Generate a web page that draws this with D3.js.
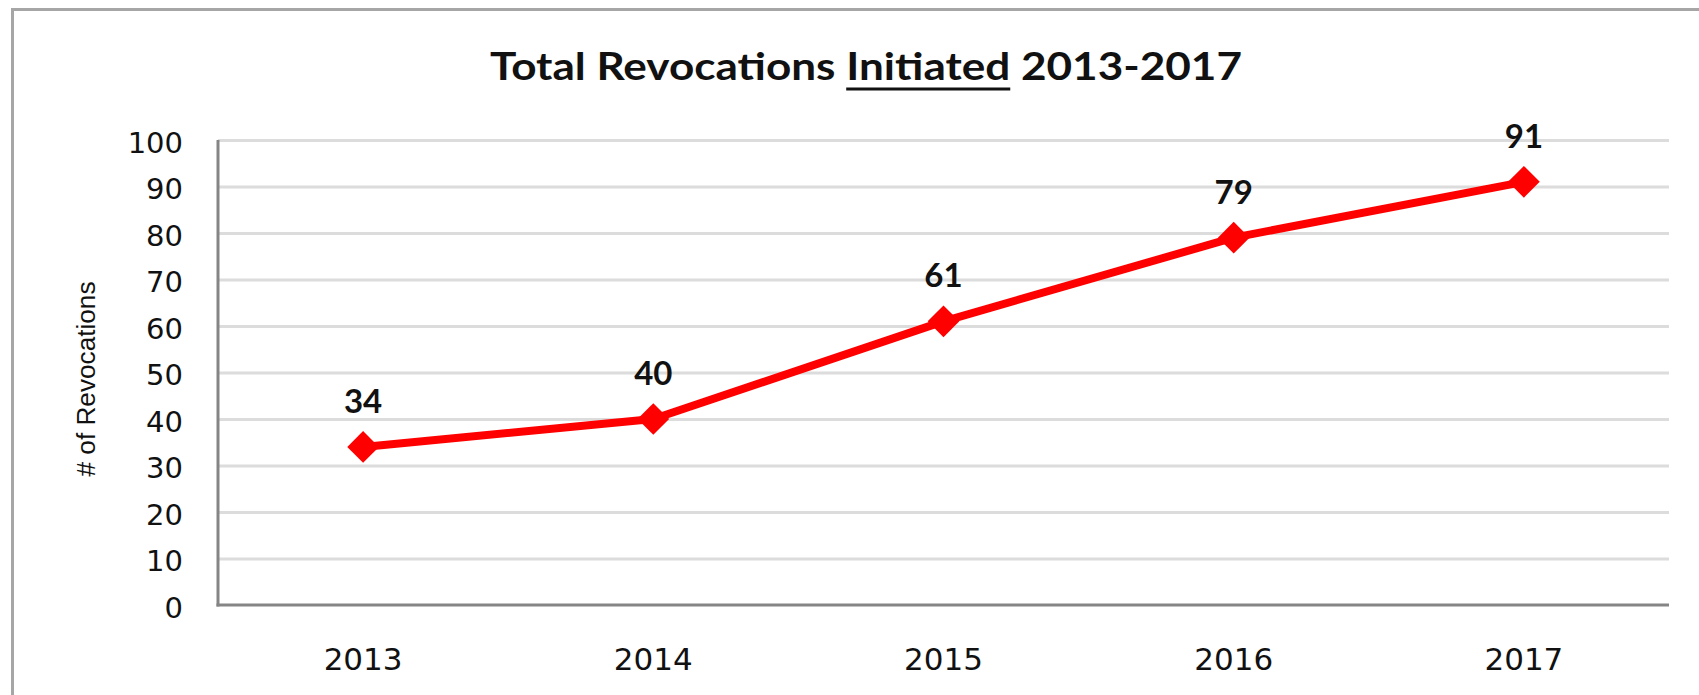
<!DOCTYPE html>
<html>
<head>
<meta charset="utf-8">
<script src="https://cdn.jsdelivr.net/npm/d3@7"></script>
<style>
  html, body { margin: 0; padding: 0; background: #fff; }
  svg { display: block; }
</style>
</head>
<body>
<svg id="chart" width="1699" height="695"></svg>
<script>
const categories = ["2013", "2014", "2015", "2016", "2017"];
const values = [34, 40, 61, 79, 91];
const yTicks = [0, 10, 20, 30, 40, 50, 60, 70, 80, 90, 100];
const titleParts = ["Total Revocations ", "Initiated", " 2013-2017"];
const yTitle = "# of Revocations";

const svg = d3.select("#chart");
const W = 1699, H = 695;
const plot = { left: 218, right: 1669, top: 140, bottom: 605 };

// outer frame (left and top edges visible)
svg.append("path")
  .attr("d", `M12.5,${H} L12.5,9.5 L${W},9.5`)
  .attr("fill", "none").attr("stroke", "#a6a6a6").attr("stroke-width", 3);

const x = d3.scaleBand().domain(categories).range([plot.left, plot.right]).paddingInner(0).paddingOuter(0);
const y = d3.scaleLinear().domain([0, 100]).range([plot.bottom, plot.top]);

// gridlines
const yAxisGrid = d3.axisLeft(y).tickValues(yTicks.filter(t => t > 0))
  .tickSize(-(plot.right - plot.left)).tickFormat("");
const grid = svg.append("g").attr("transform", `translate(${plot.left},0)`).call(yAxisGrid);
grid.select(".domain").remove();
grid.selectAll(".tick line").attr("stroke", "#dcdcdc").attr("stroke-width", 3);

// y axis labels
const yAxis = d3.axisLeft(y).tickValues(yTicks).tickSize(0).tickPadding(0);
const ya = svg.append("g").attr("transform", `translate(${plot.left},0)`).call(yAxis);
ya.select(".domain").remove();
ya.selectAll(".tick text")
  .attr("x", -(plot.left - 183))
  .attr("dy", "0.42em")
  .attr("font-family", "DejaVu Sans, Verdana, sans-serif")
  .attr("font-size", 29)
  .attr("fill", "#111");

// x axis labels
const xAxis = d3.axisBottom(x).tickSize(0).tickPadding(0);
const xa = svg.append("g").attr("transform", `translate(0,${plot.bottom})`).call(xAxis);
xa.select(".domain").remove();
xa.selectAll(".tick text")
  .attr("y", 54)
  .attr("dy", "0.36em")
  .attr("font-family", "DejaVu Sans, Verdana, sans-serif")
  .attr("font-size", 31)
  .attr("fill", "#111");

// axis lines
svg.append("line").attr("x1", plot.left).attr("x2", plot.left)
  .attr("y1", plot.top).attr("y2", plot.bottom + 1.5)
  .attr("stroke", "#858585").attr("stroke-width", 3);
svg.append("line").attr("x1", plot.left - 1.5).attr("x2", plot.right)
  .attr("y1", plot.bottom).attr("y2", plot.bottom)
  .attr("stroke", "#858585").attr("stroke-width", 3);

// series line
const pts = categories.map((c, i) => ({ c, v: values[i] }));
const cx = d => x(d.c) + x.bandwidth() / 2;
svg.append("path")
  .datum(pts)
  .attr("d", d3.line().x(cx).y(d => y(d.v)))
  .attr("fill", "none").attr("stroke", "#ff0000").attr("stroke-width", 8)
  .attr("stroke-linejoin", "round");

// diamond markers
svg.selectAll(".marker").data(pts).enter().append("path")
  .attr("class", "marker")
  .attr("d", d3.symbol().type(d3.symbolDiamond2).size(640))
  .attr("transform", d => `translate(${cx(d)},${y(d.v)})`)
  .attr("fill", "#ff0000");

// data labels
svg.selectAll(".dlabel").data(pts).enter().append("text")
  .attr("class", "dlabel")
  .attr("x", cx)
  .attr("y", d => y(d.v) - 34)
  .attr("text-anchor", "middle")
  .attr("font-family", "Lato, 'Open Sans', sans-serif")
  .attr("font-weight", "bold")
  .attr("font-size", 33)
  .attr("fill", "#111")
  .text(d => d.v);

// title
const title = svg.append("text")
  .attr("x", 866).attr("y", 80)
  .attr("text-anchor", "middle")
  .attr("font-family", "Lato, 'Open Sans', sans-serif")
  .attr("font-weight", "bold")
  .attr("font-size", 38)
  .attr("fill", "#111")
  .attr("textLength", 752)
  .attr("lengthAdjust", "spacingAndGlyphs");
titleParts.forEach(p => title.append("tspan").text(p));
const tnode = title.node();
const s0 = titleParts[0].length;
const s1 = s0 + titleParts[1].length - 1;
const ux1 = tnode.getStartPositionOfChar(s0).x;
const ux2 = tnode.getEndPositionOfChar(s1).x;
svg.append("line").attr("x1", ux1).attr("x2", ux2)
  .attr("y1", 89).attr("y2", 89)
  .attr("stroke", "#111").attr("stroke-width", 3);

// y axis title
svg.append("text")
  .attr("transform", "translate(95,379) rotate(-90)")
  .attr("text-anchor", "middle")
  .attr("font-family", "'Liberation Sans Narrow', 'Liberation Sans', Arial, sans-serif")
  .attr("font-size", 26)
  .attr("fill", "#111")
  .attr("textLength", 195)
  .attr("lengthAdjust", "spacingAndGlyphs")
  .text(yTitle);
</script>
</body>
</html>
